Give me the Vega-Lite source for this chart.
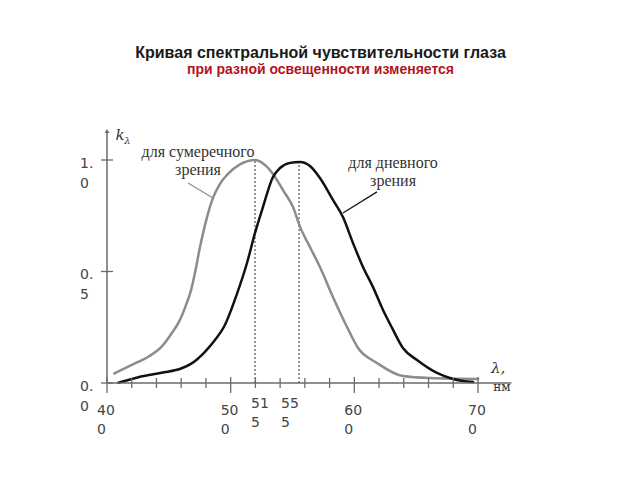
{
  "$schema": "https://vega.github.io/schema/vega-lite/v6.json",
  "width": 371,
  "height": 252,
  "autosize": {"type": "none"},
  "padding": {"left": 107, "top": 131, "right": 162, "bottom": 97},
  "background": "white",
  "config": {"view": {"stroke": null}},
  "title": {
    "text": "Кривая спектральной чувствительности глаза",
    "subtitle": "при разной освещенности изменяется",
    "anchor": "middle",
    "frame": "group",
    "dx": 28,
    "offset": 51,
    "font": "Liberation Sans",
    "fontSize": 16,
    "fontWeight": "bold",
    "color": "#1a1a1a",
    "subtitleFont": "Liberation Sans",
    "subtitleFontSize": 14,
    "subtitleFontWeight": "bold",
    "subtitleColor": "#b3141c",
    "subtitlePadding": 2
  },
  "datasets": {
    "curves": [
      {"s": "twilight", "nm": 405.9, "k": 0.043},
      {"s": "twilight", "nm": 420.0, "k": 0.081},
      {"s": "twilight", "nm": 433.4, "k": 0.118},
      {"s": "twilight", "nm": 444.2, "k": 0.163},
      {"s": "twilight", "nm": 452.3, "k": 0.223},
      {"s": "twilight", "nm": 459.0, "k": 0.283},
      {"s": "twilight", "nm": 464.4, "k": 0.357},
      {"s": "twilight", "nm": 467.9, "k": 0.415},
      {"s": "twilight", "nm": 471.0, "k": 0.490},
      {"s": "twilight", "nm": 475.2, "k": 0.610},
      {"s": "twilight", "nm": 480.9, "k": 0.744},
      {"s": "twilight", "nm": 485.7, "k": 0.830},
      {"s": "twilight", "nm": 491.0, "k": 0.890},
      {"s": "twilight", "nm": 497.0, "k": 0.933},
      {"s": "twilight", "nm": 507.5, "k": 0.980},
      {"s": "twilight", "nm": 519.7, "k": 1.000},
      {"s": "twilight", "nm": 529.4, "k": 0.969},
      {"s": "twilight", "nm": 537.5, "k": 0.910},
      {"s": "twilight", "nm": 542.3, "k": 0.865},
      {"s": "twilight", "nm": 550.4, "k": 0.789},
      {"s": "twilight", "nm": 556.1, "k": 0.700},
      {"s": "twilight", "nm": 564.1, "k": 0.610},
      {"s": "twilight", "nm": 572.2, "k": 0.520},
      {"s": "twilight", "nm": 582.7, "k": 0.386},
      {"s": "twilight", "nm": 594.1, "k": 0.251},
      {"s": "twilight", "nm": 603.0, "k": 0.157},
      {"s": "twilight", "nm": 618.3, "k": 0.090},
      {"s": "twilight", "nm": 639.3, "k": 0.031},
      {"s": "twilight", "nm": 661.2, "k": 0.022},
      {"s": "twilight", "nm": 700.0, "k": 0.018},
      {"s": "day", "nm": 409.2, "k": 0.001},
      {"s": "day", "nm": 425.4, "k": 0.026},
      {"s": "day", "nm": 444.2, "k": 0.046},
      {"s": "day", "nm": 460.4, "k": 0.066},
      {"s": "day", "nm": 468.5, "k": 0.088},
      {"s": "day", "nm": 479.2, "k": 0.140},
      {"s": "day", "nm": 487.3, "k": 0.193},
      {"s": "day", "nm": 494.5, "k": 0.251},
      {"s": "day", "nm": 505.1, "k": 0.400},
      {"s": "day", "nm": 513.2, "k": 0.538},
      {"s": "day", "nm": 519.7, "k": 0.673},
      {"s": "day", "nm": 526.1, "k": 0.789},
      {"s": "day", "nm": 534.2, "k": 0.924},
      {"s": "day", "nm": 539.9, "k": 0.964},
      {"s": "day", "nm": 548.0, "k": 0.987},
      {"s": "day", "nm": 556.1, "k": 0.991},
      {"s": "day", "nm": 564.1, "k": 0.973},
      {"s": "day", "nm": 572.2, "k": 0.919},
      {"s": "day", "nm": 582.7, "k": 0.821},
      {"s": "day", "nm": 590.8, "k": 0.744},
      {"s": "day", "nm": 598.9, "k": 0.628},
      {"s": "day", "nm": 607.0, "k": 0.520},
      {"s": "day", "nm": 615.1, "k": 0.430},
      {"s": "day", "nm": 623.2, "k": 0.327},
      {"s": "day", "nm": 630.5, "k": 0.247},
      {"s": "day", "nm": 639.3, "k": 0.157},
      {"s": "day", "nm": 650.7, "k": 0.103},
      {"s": "day", "nm": 666.8, "k": 0.045},
      {"s": "day", "nm": 679.8, "k": 0.018},
      {"s": "day", "nm": 696.0, "k": 0.004}
    ],
    "peaks": [
      {"nm": 519.7, "k": 1.0, "base": 0},
      {"nm": 555.3, "k": 0.99, "base": 0}
    ],
    "leaders": [
      {"s": "twilight", "x1": 465.5, "y1": 0.897, "x2": 485.7, "y2": 0.830},
      {"s": "day", "x1": 618.3, "y1": 0.857, "x2": 590.8, "y2": 0.762}
    ],
    "axislines": [
      {"xa": 400, "xb": 400, "ya": 0, "yb": 1.13},
      {"xa": 400, "xb": 727, "ya": 0, "yb": 0}
    ],
    "xticks": [
      {"v": 400, "z": 0, "g": "major"},
      {"v": 420, "z": 0, "g": "minor"},
      {"v": 440, "z": 0, "g": "minor"},
      {"v": 460, "z": 0, "g": "minor"},
      {"v": 480, "z": 0, "g": "minor"},
      {"v": 500, "z": 0, "g": "major"},
      {"v": 520, "z": 0, "g": "minor"},
      {"v": 540, "z": 0, "g": "minor"},
      {"v": 560, "z": 0, "g": "minor"},
      {"v": 580, "z": 0, "g": "minor"},
      {"v": 600, "z": 0, "g": "major"},
      {"v": 620, "z": 0, "g": "minor"},
      {"v": 640, "z": 0, "g": "minor"},
      {"v": 660, "z": 0, "g": "minor"},
      {"v": 680, "z": 0, "g": "minor"},
      {"v": 700, "z": 0, "g": "major"}
    ],
    "yticks": [
      {"v": 0, "z": 400},
      {"v": 0.5, "z": 400},
      {"v": 1.0, "z": 400}
    ],
    "notes": [
      {"nm": 473.6, "k": 1.036, "t": "для сумеречного\nзрения"},
      {"nm": 631.3, "k": 0.987, "t": "для дневного\nзрения"}
    ],
    "symbols": [
      {"nm": 410.5, "k": 1.112, "t": "k", "size": "big"},
      {"nm": 416.5, "k": 1.085, "t": "λ", "size": "small"},
      {"nm": 716.2, "k": 0.067, "t": "λ,", "size": "big"}
    ],
    "ylabels": [
      {"v": 1.0, "z": 400, "t": "1.\n0"},
      {"v": 0.5, "z": 400, "t": "0.\n5"},
      {"v": 0.0, "z": 400, "t": "0.\n0"}
    ],
    "xlabels": [
      {"v": 400, "z": 0, "t": "40\n0", "g": "main"},
      {"v": 500, "z": 0, "t": "50\n0", "g": "main"},
      {"v": 600, "z": 0, "t": "60\n0", "g": "main"},
      {"v": 700, "z": 0, "t": "70\n0", "g": "main"},
      {"v": 519.7, "z": 0, "t": "51\n5", "g": "a"},
      {"v": 555.3, "z": 0, "t": "55\n5", "g": "b"}
    ]
  },
  "layer": [
    {
      "data": {"name": "peaks"},
      "mark": {"type": "rule", "color": "#333333", "strokeWidth": 1, "strokeDash": [2, 2]},
      "encoding": {
        "x": {"field": "nm", "type": "quantitative"},
        "y": {"field": "base", "type": "quantitative"},
        "y2": {"field": "k"}
      }
    },
    {
      "data": {"name": "curves"},
      "mark": {"type": "line", "interpolate": "monotone", "strokeWidth": 2.5, "strokeCap": "round"},
      "encoding": {
        "x": {
          "field": "nm",
          "type": "quantitative",
          "scale": {"domain": [400, 700], "nice": false, "zero": false},
          "axis": {"labels": false, "domain": false, "ticks": false, "grid": false, "title": null}
        },
        "y": {
          "field": "k",
          "type": "quantitative",
          "scale": {"domain": [0, 1.13], "nice": false, "zero": false},
          "axis": {"labels": false, "domain": false, "ticks": false, "grid": false, "title": null}
        },
        "color": {
          "field": "s",
          "type": "nominal",
          "scale": {"domain": ["twilight", "day"], "range": ["#8c8c8c", "#111111"]},
          "legend": null
        }
      }
    },
    {
      "data": {"name": "axislines"},
      "mark": {"type": "rule", "color": "#6b6b6b", "strokeWidth": 1.5},
      "encoding": {
        "x": {"field": "xa", "type": "quantitative"},
        "x2": {"field": "xb"},
        "y": {"field": "ya", "type": "quantitative"},
        "y2": {"field": "yb"}
      }
    },
    {
      "data": {"name": "axislines"},
      "transform": [{"filter": "datum.xa === datum.xb"}],
      "mark": {"type": "point", "shape": "triangle-up", "filled": true, "size": 22, "color": "#6b6b6b", "opacity": 1},
      "encoding": {
        "x": {"field": "xa", "type": "quantitative"},
        "y": {"field": "yb", "type": "quantitative"}
      }
    },
    {
      "data": {"name": "xticks"},
      "transform": [{"filter": "datum.g === 'minor'"}],
      "mark": {"type": "tick", "orient": "vertical", "size": 10, "thickness": 1.3, "color": "#6b6b6b", "opacity": 1},
      "encoding": {
        "x": {"field": "v", "type": "quantitative"},
        "y": {"field": "z", "type": "quantitative"}
      }
    },
    {
      "data": {"name": "xticks"},
      "transform": [{"filter": "datum.g === 'major'"}],
      "mark": {"type": "tick", "orient": "vertical", "size": 16, "thickness": 1.3, "yOffset": 2, "color": "#6b6b6b", "opacity": 1},
      "encoding": {
        "x": {"field": "v", "type": "quantitative"},
        "y": {"field": "z", "type": "quantitative"}
      }
    },
    {
      "data": {"name": "yticks"},
      "mark": {"type": "tick", "orient": "horizontal", "size": 12, "thickness": 1.3, "color": "#6b6b6b", "opacity": 1},
      "encoding": {
        "x": {"field": "z", "type": "quantitative"},
        "y": {"field": "v", "type": "quantitative"}
      }
    },
    {
      "data": {"name": "leaders"},
      "mark": {"type": "rule", "strokeWidth": 1.2},
      "encoding": {
        "x": {"field": "x1", "type": "quantitative"},
        "x2": {"field": "x2"},
        "y": {"field": "y1", "type": "quantitative"},
        "y2": {"field": "y2"},
        "color": {"field": "s", "type": "nominal", "legend": null}
      }
    },
    {
      "data": {"name": "notes"},
      "mark": {"type": "text", "font": "Liberation Serif", "fontSize": 16, "lineBreak": "\n", "lineHeight": 18.5, "align": "center", "baseline": "middle", "color": "#333333"},
      "encoding": {
        "x": {"field": "nm", "type": "quantitative"},
        "y": {"field": "k", "type": "quantitative"},
        "text": {"field": "t", "type": "nominal"}
      }
    },
    {
      "data": {"name": "symbols"},
      "transform": [{"filter": "datum.size === 'big'"}],
      "mark": {"type": "text", "font": "DejaVu Serif", "fontStyle": "italic", "fontSize": 15, "align": "center", "baseline": "middle", "color": "#333333"},
      "encoding": {
        "x": {"field": "nm", "type": "quantitative"},
        "y": {"field": "k", "type": "quantitative"},
        "text": {"field": "t", "type": "nominal"}
      }
    },
    {
      "data": {"name": "symbols"},
      "transform": [{"filter": "datum.size === 'small'"}],
      "mark": {"type": "text", "font": "DejaVu Serif", "fontStyle": "italic", "fontSize": 10, "align": "center", "baseline": "middle", "color": "#333333"},
      "encoding": {
        "x": {"field": "nm", "type": "quantitative"},
        "y": {"field": "k", "type": "quantitative"},
        "text": {"field": "t", "type": "nominal"}
      }
    },
    {
      "data": {"values": [{"nm": 719.4, "k": -0.02, "t": "нм"}]},
      "mark": {"type": "text", "font": "DejaVu Serif", "fontSize": 12, "align": "center", "baseline": "middle", "color": "#333333"},
      "encoding": {
        "x": {"field": "nm", "type": "quantitative"},
        "y": {"field": "k", "type": "quantitative"},
        "text": {"field": "t", "type": "nominal"}
      }
    },
    {
      "data": {"name": "ylabels"},
      "mark": {"type": "text", "font": "DejaVu Sans", "fontSize": 14, "lineBreak": "\n", "lineHeight": 20, "align": "left", "baseline": "top", "dx": -27, "dy": -3, "color": "#444444"},
      "encoding": {
        "x": {"field": "z", "type": "quantitative"},
        "y": {"field": "v", "type": "quantitative"},
        "text": {"field": "t", "type": "nominal"}
      }
    },
    {
      "data": {"name": "xlabels"},
      "transform": [{"filter": "datum.g === 'main'"}],
      "mark": {"type": "text", "font": "DejaVu Sans", "fontSize": 14, "lineBreak": "\n", "lineHeight": 18.5, "align": "left", "baseline": "top", "dx": -10, "dy": 21, "color": "#444444"},
      "encoding": {
        "x": {"field": "v", "type": "quantitative"},
        "y": {"field": "z", "type": "quantitative"},
        "text": {"field": "t", "type": "nominal"}
      }
    },
    {
      "data": {"name": "xlabels"},
      "transform": [{"filter": "datum.g === 'a'"}],
      "mark": {"type": "text", "font": "DejaVu Sans", "fontSize": 14, "lineBreak": "\n", "lineHeight": 18.5, "align": "left", "baseline": "top", "dx": -4, "dy": 14, "color": "#444444"},
      "encoding": {
        "x": {"field": "v", "type": "quantitative"},
        "y": {"field": "z", "type": "quantitative"},
        "text": {"field": "t", "type": "nominal"}
      }
    },
    {
      "data": {"name": "xlabels"},
      "transform": [{"filter": "datum.g === 'b'"}],
      "mark": {"type": "text", "font": "DejaVu Sans", "fontSize": 14, "lineBreak": "\n", "lineHeight": 18.5, "align": "left", "baseline": "top", "dx": -18, "dy": 14, "color": "#444444"},
      "encoding": {
        "x": {"field": "v", "type": "quantitative"},
        "y": {"field": "z", "type": "quantitative"},
        "text": {"field": "t", "type": "nominal"}
      }
    }
  ]
}
